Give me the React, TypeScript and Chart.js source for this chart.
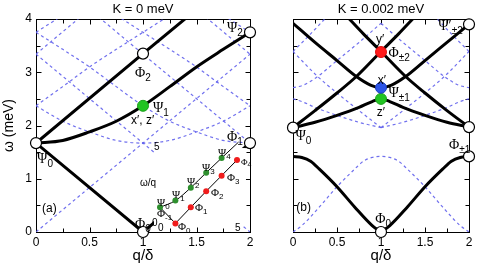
import React, { useEffect, useRef } from "react";
import { Chart, registerables } from "chart.js";
Chart.register(...registerables);

type P = [number, number];
type Lbl = { t: string; s?: string; q: number; w: number; f: "g" | "t" | "gi" | "ti" | "gs" };

const SANS = '"Liberation Sans", Arial, sans-serif';
const SERIF = '"Liberation Serif", "Times New Roman", serif';
const DASH = "rgba(96,96,236,0.9)";

// ---------- axes ----------
const qRange: P = [0, 2];
const wRange: P = [0, 4];
const qTickMarks = [0.25, 0.5, 0.75, 1, 1.25, 1.5, 1.75];
const wTickMarks = [0.5, 1, 1.5, 2, 2.5, 3, 3.5];
const titleA = "K = 0 meV";
const titleB = "K = 0.002 meV";

// ---------- panel (a): K = 0 ----------
const aBlackV: P[] = [[0, 1.67], [1, 0], [2, 1.67]];
const aBlackUpper: P[] = [[0, 1.67], [1, 3.35], [1.5, 4.18]];
const aBlackCurve: P[] = [[0, 1.67], [0.25, 1.72], [0.5, 1.88], [0.75, 2.08], [1, 2.37], [1.25, 2.73], [1.5, 3.1], [1.75, 3.43], [2, 3.75]];

const aDashRise: P[] = [[0, 0], [1, 1.67], [2, 3.34]];
const aDashFall: P[] = [[0, 3.34], [1, 1.67], [2, 0]];
const aDashRiseHigh: P[] = [[0, 3.34], [0.5, 4.18]];
const aDashFallMid: P[] = [[0.5, 4.18], [1, 3.34], [2, 1.67]];
const aDashFallHigh: P[] = [[1.5, 4.18], [2, 3.34]];
const aDashValley: P[] = [[0, 2.37], [0.25, 2.08], [0.5, 1.88], [0.75, 1.72], [1, 1.67], [1.25, 1.72], [1.5, 1.88], [1.75, 2.08], [2, 2.37]];
const aDashCurveUp: P[] = [[0, 2.37], [0.25, 2.73], [0.5, 3.1], [0.75, 3.43], [1, 3.75], [1.25, 4.07]];
const aDashCurveDown: P[] = [[0, 3.75], [0.25, 3.43], [0.5, 3.1], [0.75, 2.73], [1, 2.37], [1.25, 2.08], [1.5, 1.88], [1.75, 1.72], [2, 1.67]];
const aDashCurveDown2: P[] = [[0.75, 4.07], [1, 3.75], [1.25, 3.43], [1.5, 3.1], [1.75, 2.73], [2, 2.37]];
const aDashCornerL: P[] = [[0, 3.75], [0.25, 4.07]];
const aDashCornerR: P[] = [[1.75, 4.07], [2, 3.75]];

const aOpen: P[] = [[0, 1.67], [1, 3.35], [1, 0], [2, 1.67], [2, 3.75]];
const aGreen: P[] = [[1, 2.37]];

const aLabels: Lbl[] = [
  { t: "Ψ", s: "0", q: 0.01, w: 1.3, f: "g" },
  { t: "Φ", s: "2", q: 0.925, w: 2.91, f: "g" },
  { t: "Ψ", s: "1", q: 1.093, w: 2.25, f: "g" },
  { t: "x′, z′", q: 0.888, w: 2.03, f: "t" },
  { t: "Ψ", s: "2", q: 1.785, w: 3.76, f: "g" },
  { t: "Φ", s: "1", q: 1.785, w: 1.71, f: "g" },
  { t: "Φ", s: "0", q: 0.925, w: 0.075, f: "g" },
  { t: "(a)", q: 0.056, w: 0.376, f: "t" },
];

// ---------- panel (b): K = 0.002 meV ----------
const bBlackVLeft: P[] = [[0, 1.42], [0.1, 1.4], [0.2, 1.33], [0.3, 1.18], [0.5, 0.85], [0.7, 0.47], [0.9, 0.12], [1, 0]];
const bBlackVRight: P[] = [[1, 0], [1.1, 0.12], [1.3, 0.47], [1.5, 0.85], [1.7, 1.18], [1.8, 1.33], [1.9, 1.4], [2, 1.42]];
const bBlackRise: P[] = [[0, 1.96], [0.25, 2.28], [0.5, 2.61], [0.72, 2.92], [1, 3.39], [1.2, 3.72], [1.36, 4], [1.45, 4.16]];
const bBlackFall: P[] = [[0.55, 4.16], [0.64, 4], [0.8, 3.72], [1, 3.39], [1.28, 2.92], [1.5, 2.61], [1.75, 2.28], [2, 1.97]];
const bBlackHump: P[] = [[0, 1.96], [0.25, 2.06], [0.5, 2.19], [0.75, 2.34], [0.9, 2.45], [1, 2.5], [1.1, 2.45], [1.25, 2.34], [1.5, 2.19], [1.75, 2.06], [2, 1.97]];
const bBlackValley: P[] = [[0, 3.92], [0.25, 3.56], [0.5, 3.22], [0.72, 2.92], [0.88, 2.76], [1, 2.71], [1.12, 2.76], [1.28, 2.92], [1.5, 3.22], [1.75, 3.56], [2, 3.9]];

const bDashHump: P[] = [[0, 0], [0.1, 0.12], [0.3, 0.47], [0.5, 0.85], [0.7, 1.18], [0.8, 1.33], [0.9, 1.4], [1, 1.42], [1.1, 1.4], [1.2, 1.33], [1.3, 1.18], [1.5, 0.85], [1.7, 0.47], [1.9, 0.12], [2, 0]];
const bDashRiseL: P[] = [[0, 3.39], [0.2, 3.72], [0.36, 4], [0.45, 4.16]];
const bDashFallL: P[] = [[0, 3.39], [0.28, 2.92], [0.5, 2.61], [0.75, 2.28], [1, 1.96]];
const bDashRiseR: P[] = [[1, 1.96], [1.25, 2.28], [1.5, 2.61], [1.72, 2.92], [2, 3.39]];
const bDashFallR: P[] = [[1.55, 4.16], [1.64, 4], [1.8, 3.72], [2, 3.39]];
const bDashHumpL: P[] = [[0, 2.5], [0.1, 2.45], [0.25, 2.34], [0.5, 2.19], [0.75, 2.06], [1, 1.96]];
const bDashHumpR: P[] = [[1, 1.96], [1.25, 2.06], [1.5, 2.19], [1.75, 2.34], [1.9, 2.45], [2, 2.5]];
const bDashValleyL: P[] = [[0, 2.71], [0.12, 2.76], [0.28, 2.92], [0.5, 3.22], [0.75, 3.56], [1, 3.92]];
const bDashValleyR: P[] = [[1, 3.92], [1.25, 3.56], [1.5, 3.22], [1.72, 2.92], [1.88, 2.76], [2, 2.71]];

const bOpen: P[] = [[0, 1.96], [2, 1.97], [2, 3.9], [1, 0], [2, 1.42]];
const bRed: P[] = [[1, 3.38]];
const bBlue: P[] = [[1, 2.71]];
const bGreen: P[] = [[1, 2.5]];

const bLabels: Lbl[] = [
  { t: "y′", q: 0.943, w: 3.55, f: "t" },
  { t: "Φ", s: "±2", q: 1.085, w: 3.29, f: "g" },
  { t: "x′", q: 0.962, w: 2.78, f: "t" },
  { t: "Ψ", s: "±1", q: 1.085, w: 2.54, f: "g" },
  { t: "z′", q: 0.953, w: 2.18, f: "t" },
  { t: "Ψ", s: "0", q: 0.028, w: 1.73, f: "g" },
  { t: "Φ", s: "±1", q: 1.774, w: 1.56, f: "g" },
  { t: "Φ", s: "0", q: 0.934, w: 0.17, f: "g" },
  { t: "(b)", q: 0.038, w: 0.39, f: "t" },
  { t: "Ψ′", s: "±2", q: 1.651, w: 3.79, f: "g" },
];

// ---------- inset (ω/q) ----------
const insetRange: P = [0, 5];
const insetBox: [number, number, number, number] = [-0.39, 5.58, -0.13, 4.87];
const insetPsiLine: P[] = [[0, 1.07], [1, 1.5], [2, 2.33], [3, 3.29], [4, 4.23], [5.1, 5.25]];
const insetPsi: P[] = [[0, 1.07], [1, 1.5], [2, 2.33], [3, 3.29], [4, 4.23]];
const insetPhiLine: P[] = [[1, 0.04], [2, 1.07], [3, 2.1], [4, 3.1], [5, 4.1], [5.6, 4.65]];
const insetPhi: P[] = [[1, 0.04], [2, 1.07], [3, 2.1], [4, 3.1], [5, 4.1]];
const insetLink: P[] = [[0, 1.07], [1, 0.04]];
const insetLabels: Lbl[] = [
  { t: "Ψ", s: "0", q: -0.19, w: 1.15, f: "gi" },
  { t: "Ψ", s: "1", q: 0.78, w: 1.67, f: "gi" },
  { t: "Ψ", s: "2", q: 1.75, w: 2.5, f: "gi" },
  { t: "Ψ", s: "3", q: 2.73, w: 3.4, f: "gi" },
  { t: "Ψ", s: "4", q: 3.77, w: 4.36, f: "gi" },
  { t: "Φ", s: "-1", q: -0.19, w: 0.45, f: "gi" },
  { t: "Φ", s: "0", q: 1.17, w: -0.38, f: "gi" },
  { t: "Φ", s: "1", q: 2.27, w: 0.83, f: "gi" },
  { t: "Φ", s: "2", q: 3.31, w: 1.79, f: "gi" },
  { t: "Φ", s: "3", q: 4.35, w: 2.76, f: "gi" },
  { t: "Φ", s: "4", q: 5.26, w: 3.78, f: "gs" },
  { t: "ω/q", q: -1.3, w: 2.44, f: "ti" },
  { t: "5", q: -0.39, w: 4.74, f: "ti" },
  { t: "5", q: 4.87, w: -0.45, f: "ti" },
  { t: "0", q: -0.13, w: -0.45, f: "ti" },
  { t: "0", q: -0.52, w: -0.13, f: "ti" },
];

// ---------- helpers ----------
const toXY = (pts: P[]) => pts.map(([x, y]) => ({ x, y }));

function line(pts: P[], kind: "black" | "dash" | "thin", smooth: boolean) {
  const base: any = {
    data: toXY(pts),
    pointRadius: 0,
    fill: false,
    tension: 0,
    cubicInterpolationMode: smooth ? "monotone" : "default",
  };
  if (kind === "black") return { ...base, borderColor: "#000", borderWidth: 3, order: 2 };
  if (kind === "thin") return { ...base, borderColor: "#000", borderWidth: 1, order: 2, clip: false };
  return { ...base, borderColor: DASH, borderWidth: 1.2, borderDash: [3, 3], order: 3 };
}

function dots(pts: P[], fill: string, r: number, border = "#000", bw = 1) {
  return {
    data: toXY(pts),
    showLine: false,
    pointRadius: r,
    pointBackgroundColor: fill,
    pointBorderColor: border,
    pointBorderWidth: bw,
    clip: false,
    order: 0,
  };
}

function drawLabels(chart: any, labels: Lbl[]) {
  const { ctx, scales } = chart;
  ctx.save();
  ctx.fillStyle = "#000";
  ctx.textAlign = "left";
  ctx.textBaseline = "alphabetic";
  for (const L of labels) {
    const x = scales.x.getPixelForValue(L.q);
    const y = scales.y.getPixelForValue(L.w);
    let main = `14px ${SERIF}`, sub = `10px ${SANS}`, drop = 4;
    if (L.f === "t") main = `12px ${SANS}`;
    if (L.f === "gi") { main = `11px ${SERIF}`; sub = `8px ${SANS}`; drop = 3; }
    if (L.f === "gs") { main = `9px ${SERIF}`; sub = `7px ${SANS}`; drop = 2; }
    if (L.f === "ti") main = `10px ${SANS}`;
    ctx.font = main;
    ctx.fillText(L.t, x, y);
    if (L.s) {
      const w = ctx.measureText(L.t).width;
      ctx.font = sub;
      ctx.fillText(L.s, x + w, y + drop);
    }
  }
  ctx.restore();
}

function panelPlugin(title: string, labels: Lbl[]) {
  return {
    id: "panel",
    beforeDatasetsDraw(chart: any) {
      const { ctx, chartArea: a, scales } = chart;
      ctx.save();
      ctx.strokeStyle = "#000";
      ctx.lineWidth = 1;
      const L = Math.round(a.left) + 0.5, R = Math.round(a.right) + 0.5;
      const T = Math.round(a.top) + 0.5, B = Math.round(a.bottom) + 0.5;
      ctx.strokeRect(L, T, R - L, B - T);
      ctx.beginPath();
      for (const v of qTickMarks) {
        const px = Math.round(scales.x.getPixelForValue(v)) + 0.5;
        const len = v % 0.5 === 0 ? 5 : 4;
        ctx.moveTo(px, B); ctx.lineTo(px, B - len);
        ctx.moveTo(px, T); ctx.lineTo(px, T + len);
      }
      for (const v of wTickMarks) {
        const py = Math.round(scales.y.getPixelForValue(v)) + 0.5;
        const len = v % 1 === 0 ? 5 : 4;
        ctx.moveTo(L, py); ctx.lineTo(L + len, py);
        ctx.moveTo(R, py); ctx.lineTo(R - len, py);
      }
      ctx.stroke();
      ctx.restore();
    },
    afterDatasetsDraw(chart: any) {
      const { ctx, chartArea: a } = chart;
      ctx.save();
      ctx.fillStyle = "#000";
      ctx.font = `13px ${SANS}`;
      ctx.textAlign = "center";
      ctx.textBaseline = "alphabetic";
      ctx.fillText(title, (a.left + a.right) / 2, a.top - 6);
      ctx.restore();
      drawLabels(chart, labels);
    },
  };
}

const insetPlugin = {
  id: "inset",
  beforeDatasetsDraw(chart: any) {
    const { ctx, scales } = chart;
    const x0 = scales.x.getPixelForValue(insetBox[0]);
    const x1 = scales.x.getPixelForValue(insetBox[1]);
    const y0 = scales.y.getPixelForValue(insetBox[2]);
    const y1 = scales.y.getPixelForValue(insetBox[3]);
    ctx.save();
    ctx.fillStyle = "#fff";
    ctx.fillRect(x0, y1, x1 - x0, y0 - y1);
    ctx.restore();
  },
  afterDatasetsDraw(chart: any) {
    drawLabels(chart, insetLabels);
  },
};

const fmt = (v: any) => String(Number(v));

function panelOptions(showY: boolean, pad: { left: number; right: number }) {
  const tickFont = { family: SANS, size: 12 };
  return {
    animation: false,
    responsive: false,
    maintainAspectRatio: false,
    devicePixelRatio: 1,
    layout: { padding: { left: pad.left, right: pad.right, top: 19, bottom: 0 } },
    plugins: { legend: { display: false }, tooltip: { enabled: false }, title: { display: false } },
    scales: {
      x: {
        type: "linear",
        min: qRange[0],
        max: qRange[1],
        grid: { display: false, drawTicks: false },
        border: { display: false },
        ticks: { stepSize: 0.5, font: tickFont, color: "#000", padding: 3, maxRotation: 0, autoSkip: false, callback: fmt },
        title: { display: true, text: "q/δ", color: "#000", font: { family: SANS, size: 15 }, padding: { top: 0, bottom: 4 } },
        afterFit: (s: any) => { s.height = 37; },
      },
      y: {
        type: "linear",
        display: showY,
        min: wRange[0],
        max: wRange[1],
        grid: { display: false, drawTicks: false },
        border: { display: false },
        ticks: { stepSize: 1, font: tickFont, color: "#000", padding: 4, callback: fmt },
        title: { display: true, text: "ω (meV)", color: "#000", font: { family: SANS, size: 14 }, padding: { top: 1, bottom: 0 } },
        afterFit: (s: any) => { s.width = 36; },
      },
    },
  };
}

function makeA(): any {
  return {
    type: "line",
    data: {
      datasets: [
        dots(aOpen, "#fff", 5.5, "#000", 1.2),
        dots(aGreen, "#22c422", 5.5, "#1aa01a", 1),
        line(aBlackV, "black", false),
        line(aBlackUpper, "black", false),
        line(aBlackCurve, "black", true),
        line(aDashRise, "dash", false),
        line(aDashFall, "dash", false),
        line(aDashRiseHigh, "dash", false),
        line(aDashFallMid, "dash", false),
        line(aDashFallHigh, "dash", false),
        line(aDashValley, "dash", true),
        line(aDashCurveUp, "dash", true),
        line(aDashCurveDown, "dash", true),
        line(aDashCurveDown2, "dash", true),
        line(aDashCornerL, "dash", true),
        line(aDashCornerR, "dash", true),
      ],
    },
    options: panelOptions(true, { left: 0, right: 10 }),
    plugins: [panelPlugin(titleA, aLabels)],
  };
}

function makeB(): any {
  return {
    type: "line",
    data: {
      datasets: [
        dots(bOpen, "#fff", 5.5, "#000", 1.2),
        dots(bRed, "#ff1a1a", 5.5, "#e01010", 1),
        dots(bBlue, "#2d55e8", 5.5, "#1f3fc0", 1),
        dots(bGreen, "#22c422", 5.5, "#1aa01a", 1),
        line(bBlackVLeft, "black", true),
        line(bBlackVRight, "black", true),
        line(bBlackRise, "black", true),
        line(bBlackFall, "black", true),
        line(bBlackHump, "black", true),
        line(bBlackValley, "black", true),
        line(bDashHump, "dash", true),
        line(bDashRiseL, "dash", true),
        line(bDashFallL, "dash", true),
        line(bDashRiseR, "dash", true),
        line(bDashFallR, "dash", true),
        line(bDashHumpL, "dash", true),
        line(bDashHumpR, "dash", true),
        line(bDashValleyL, "dash", true),
        line(bDashValleyR, "dash", true),
      ],
    },
    options: panelOptions(false, { left: 17, right: 11 }),
    plugins: [panelPlugin(titleB, bLabels)],
  };
}

function makeInset(): any {
  return {
    type: "line",
    data: {
      datasets: [
        dots(insetPsi, "#2e8f2e", 3, "#2e8f2e", 0),
        dots(insetPhi, "#f01c1c", 3, "#f01c1c", 0),
        line(insetPsiLine, "thin", true),
        line(insetPhiLine, "thin", false),
        line(insetLink, "thin", false),
      ],
    },
    options: {
      animation: false,
      responsive: false,
      maintainAspectRatio: false,
      devicePixelRatio: 1,
      layout: { padding: { left: 30, right: 18, top: 16, bottom: 12 } },
      plugins: { legend: { display: false }, tooltip: { enabled: false } },
      scales: {
        x: { type: "linear", display: false, min: insetRange[0], max: insetRange[1] },
        y: { type: "linear", display: false, min: insetRange[0], max: insetRange[1] },
      },
    },
    plugins: [insetPlugin],
  };
}

function ChartCanvas(props: { make: () => any; left: number; top: number; w: number; h: number }) {
  const ref = useRef<HTMLCanvasElement>(null);
  useEffect(() => {
    const chart = new Chart(ref.current as HTMLCanvasElement, props.make());
    return () => chart.destroy();
  }, []);
  return (
    <canvas
      ref={ref}
      width={props.w}
      height={props.h}
      style={{ position: "absolute", left: props.left, top: props.top, width: props.w, height: props.h }}
    />
  );
}

export default function App() {
  return (
    <div style={{ position: "fixed", left: 0, top: 0, width: 480, height: 269, background: "#fff", overflow: "hidden" }}>
      <ChartCanvas make={makeA} left={0} top={0} w={260} h={269} />
      <ChartCanvas make={makeB} left={240} top={0} w={240} h={269} />
      <ChartCanvas make={makeInset} left={130} top={130} w={125} h={106} />
    </div>
  );
}
